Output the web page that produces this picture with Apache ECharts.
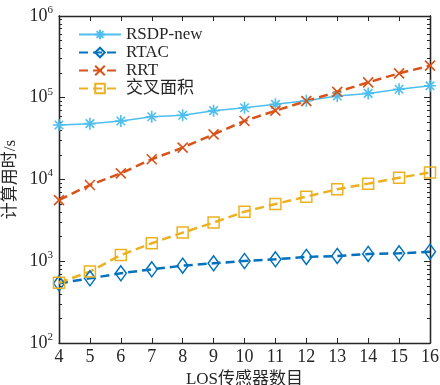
<!DOCTYPE html>
<html>
<head>
<meta charset="utf-8">
<script src="https://cdn.jsdelivr.net/npm/echarts@6/dist/echarts.min.js"></script>
<style>html,body{margin:0;padding:0;background:#fff}#c{width:440px;height:385px}</style>
</head>
<body>
<div id="c"></div>
<script>
const sensorCounts = [4, 5, 6, 7, 8, 9, 10, 11, 12, 13, 14, 15, 16];
const rsdpNew = [46400, 48200, 52000, 58600, 61000, 69500, 75500, 83000, 92000, 105000, 113000, 127000, 140000];
const rtac = [537, 618, 712, 797, 883, 944, 1007, 1057, 1128, 1160, 1227, 1250, 1310];
const rrt = [5600, 8570, 11900, 17700, 24500, 35700, 52000, 69500, 91000, 118000, 154000, 199000, 247000];
const crossArea = [545, 747, 1190, 1660, 2240, 2970, 4040, 5010, 6170, 7600, 8900, 10500, 12200];
const seriesNames = ['RSDP-new', 'RTAC', 'RRT', '交叉面积'];
const majorTicks = [100, 1000, 10000, 100000, 1000000];

const minorTicks = [];
for (let e = 2; e < 6; e++) for (let m = 2; m <= 9; m++) minorTicks.push(m * Math.pow(10, e));

const FONT = '"Liberation Serif", "Times New Roman", "Noto Sans CJK SC", serif';
const AX = '#262626';
const pairs = arr => sensorCounts.map((x, i) => [x, arr[i]]);

const asterisk = 'path://M0,-10L0,10M-10,0L10,0M-7.07,-7.07L7.07,7.07M-7.07,7.07L7.07,-7.07';
const cross = 'path://M-10,-10L10,10M-10,10L10,-10';

function yAxisDef(pos, ticks, len, labels) {
  return {
    type: 'log', logBase: 10, min: 100, max: 1000000, position: pos,
    axisLine: { show: true, onZero: false, lineStyle: { color: AX, width: 1.3 } },
    axisTick: { show: true, inside: true, length: len, customValues: ticks, lineStyle: { color: AX, width: 1 } },
    splitLine: { show: false },
    axisLabel: labels ? {
      show: true, customValues: majorTicks, margin: 6,
      formatter: v => '{b|10}{s|' + Math.round(Math.log10(v)) + '}',
      rich: {
        b: { fontFamily: FONT, fontSize: 18, color: AX },
        s: { fontFamily: FONT, fontSize: 11, color: AX, padding: [0, 0, 12, 0] }
      }
    } : { show: false }
  };
}

const chart = echarts.init(document.getElementById('c'), null, { renderer: 'canvas' });
chart.setOption({
  backgroundColor: '#fff',
  animation: false,
  grid: { left: 59, right: 10, top: 16, bottom: 42, containLabel: false, outerBoundsMode: 'none' },
  legend: {
    orient: 'vertical', left: 73, top: 21, itemWidth: 42, itemHeight: 12, itemGap: 1,
    textStyle: { fontFamily: FONT, fontSize: 17, lineHeight: 16, color: AX },
    data: seriesNames
  },
  xAxis: [{
    type: 'value', min: 4, max: 16, interval: 1, position: 'bottom',
    name: 'LOS传感器数目', nameLocation: 'middle', nameGap: 26,
    nameTextStyle: { fontFamily: FONT, fontSize: 17, color: AX },
    axisLine: { show: true, onZero: false, lineStyle: { color: AX, width: 1.3 } },
    axisTick: { show: true, inside: true, length: 5, lineStyle: { color: AX } },
    axisLabel: { fontFamily: FONT, fontSize: 18, color: AX, margin: 5 },
    splitLine: { show: false }
  }, {
    type: 'value', min: 4, max: 16, interval: 1, position: 'top',
    axisLine: { show: true, onZero: false, lineStyle: { color: AX, width: 1.3 } },
    axisTick: { show: true, inside: true, length: 5, lineStyle: { color: AX } },
    axisLabel: { show: false }, splitLine: { show: false }
  }],
  yAxis: [
    Object.assign(yAxisDef('left', majorTicks, 6, true), {
      name: '计算用时/s', nameLocation: 'middle', nameGap: 30,
      nameTextStyle: { fontFamily: FONT, fontSize: 17, color: AX }
    }),
    yAxisDef('left', minorTicks, 3, false),
    yAxisDef('right', majorTicks, 6, false),
    yAxisDef('right', minorTicks, 3, false)
  ],
  series: [
    {
      name: seriesNames[0], type: 'line', data: pairs(rsdpNew),
      symbol: asterisk, symbolSize: 12,
      lineStyle: { color: '#4DBEEE', width: 1.5, type: 'solid' },
      itemStyle: { color: 'rgba(0,0,0,0)', borderColor: '#4DBEEE', borderWidth: 1.6 }
    },
    {
      name: seriesNames[1], type: 'line', data: pairs(rtac),
      symbol: 'diamond', symbolSize: [11, 15],
      lineStyle: { color: '#0072BD', width: 2.5, type: [9, 5] },
      itemStyle: { color: 'rgba(0,0,0,0)', borderColor: '#0072BD', borderWidth: 1.5 }
    },
    {
      name: seriesNames[2], type: 'line', data: pairs(rrt),
      symbol: cross, symbolSize: 10,
      lineStyle: { color: '#D95319', width: 2.5, type: [9, 5] },
      itemStyle: { color: 'rgba(0,0,0,0)', borderColor: '#D95319', borderWidth: 1.6 }
    },
    {
      name: seriesNames[3], type: 'line', data: pairs(crossArea),
      symbol: 'rect', symbolSize: 11,
      lineStyle: { color: '#EDB120', width: 2.5, type: [9, 5] },
      itemStyle: { color: 'rgba(0,0,0,0)', borderColor: '#EDB120', borderWidth: 1.5 }
    }
  ]
});
</script>
</body>
</html>
